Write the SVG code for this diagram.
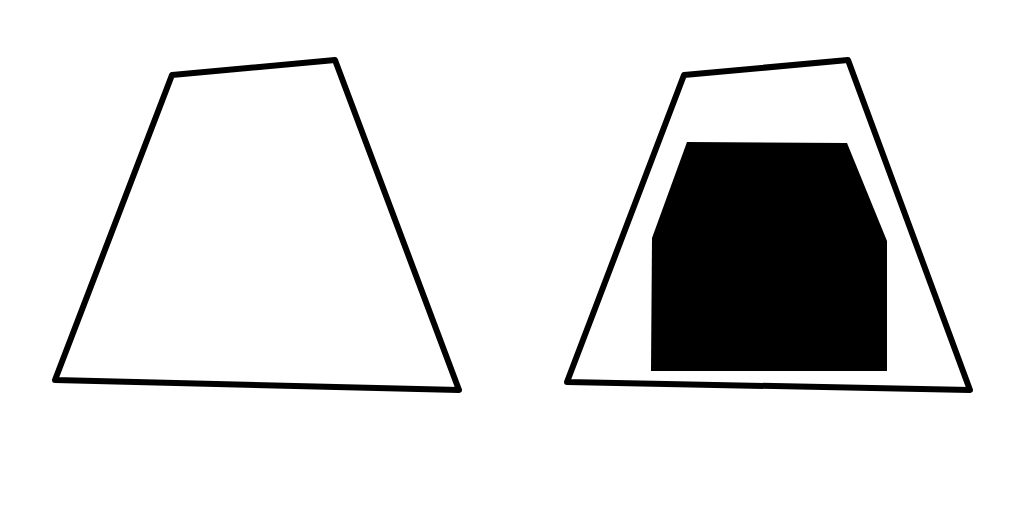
<svg xmlns="http://www.w3.org/2000/svg" width="1024" height="512" viewBox="0 0 1024 512">
<style>
.q{fill:none;stroke:#000;stroke-width:6;stroke-linejoin:round}
</style>
<rect width="1024" height="512" fill="#fff"/>
<g id="left-quad"><polygon class="q" points="172,75 335,60 459,390 55,380"/></g>
<g id="right-quad"><polygon class="q" points="684,75 848,60 970,390 567,382"/></g>
<g id="inner-shape"><polygon fill="#000" points="687,142 847,143 887,241 887,371 651,371 652,238"/></g>
</svg>
